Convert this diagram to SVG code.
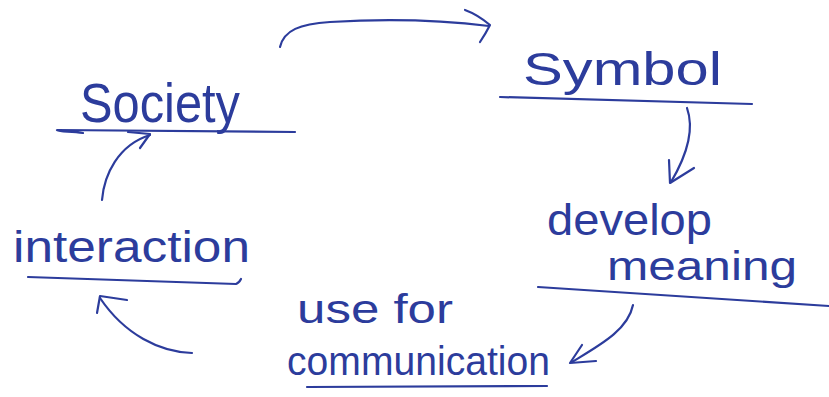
<svg xmlns="http://www.w3.org/2000/svg" width="829" height="397" viewBox="0 0 829 397">
<style>
.t{font-family:"Liberation Sans","DejaVu Sans",sans-serif;fill:#2c3c9c}
.s{fill:none;stroke:#2c3c9c;stroke-width:2.2;stroke-linecap:round;stroke-linejoin:round}
</style>
<rect width="829" height="397" fill="#ffffff"/>
<g id="society">
<text class="t" x="80" y="122" font-size="56" textLength="160" lengthAdjust="spacingAndGlyphs">Society</text>
<path class="s" d="M83,133 C70,131 60,132 57,130 L295,132"/>
</g>
<g id="symbol">
<text class="t" x="523" y="85" font-size="46" textLength="199" lengthAdjust="spacingAndGlyphs">Symbol</text>
<path class="s" d="M500,97 L752,104"/>
</g>
<g id="develop-meaning">
<text class="t" x="547" y="235" font-size="44" textLength="165" lengthAdjust="spacingAndGlyphs">develop</text>
<text class="t" x="607" y="280" font-size="40" textLength="190" lengthAdjust="spacingAndGlyphs">meaning</text>
<path class="s" d="M538,287 L829,306"/>
</g>
<g id="communication">
<text class="t" x="297" y="323" font-size="40" textLength="156" lengthAdjust="spacingAndGlyphs">use for</text>
<text class="t" x="287" y="375" font-size="40" textLength="263" lengthAdjust="spacingAndGlyphs">communication</text>
<path class="s" d="M307,387 L547,386"/>
</g>
<g id="interaction">
<text class="t" x="13" y="262" font-size="44" textLength="237" lengthAdjust="spacingAndGlyphs">interaction</text>
<path class="s" d="M28,277 L236,284 C239,283 240,281 241,279"/>
</g>
<g id="connectors">
<path class="s" d="M280,47 C284,30 300,24 330,22 C380,19 440,20 489,26"/>
<path class="s" d="M465,10 C476,14 484,20 490,25 C487,31 484,36 480,42"/>
<path class="s" d="M687,108 C693,125 690,150 671,182"/>
<path class="s" d="M669,160 L670,183 L694,168"/>
<path class="s" d="M633,305 C628,330 600,345 572,362"/>
<path class="s" d="M582,345 L570,363 L596,361"/>
<path class="s" d="M192,353 C160,352 125,335 100,298"/>
<path class="s" d="M127,300 L100,296 L97,313"/>
<path class="s" d="M102,200 C104,175 118,145 150,135"/>
<path class="s" d="M128,132 L150,134 L140,148"/>
</g>
</svg>
